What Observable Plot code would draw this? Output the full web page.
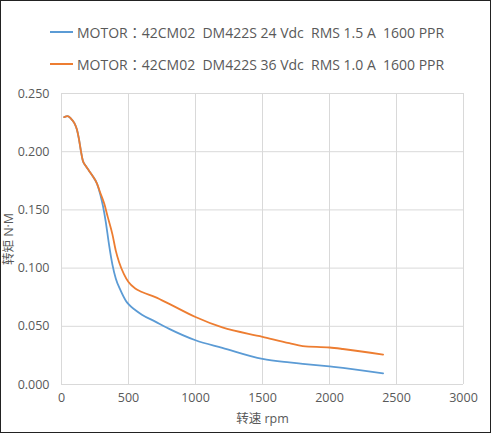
<!DOCTYPE html>
<html>
<head>
<meta charset="utf-8">
<script src="https://cdn.jsdelivr.net/npm/d3@7"></script>
<script src="https://cdn.jsdelivr.net/npm/@observablehq/plot@0.6"></script>
<style>
  html, body { margin: 0; padding: 0; background: #fff; }
  #wrap { position: relative; width: 491px; height: 433px; overflow: hidden; background: #fff;
          font-family: "Open Sans", "Noto Sans CJK JP", sans-serif; }
  #frame { position: absolute; left: 0; top: 0; right: 0; bottom: 0; border: 1.5px solid #222; pointer-events: none; }
  #legend { height: 80px; position: relative; }
  .row { position: absolute; left: 50px; display: flex; align-items: center; white-space: pre;
         font-size: 14px; color: #595959; }
  .sw { width: 23px; height: 0; border-top: 2px solid; margin-right: 4px; }
  svg { display: block; }
</style>
</head>
<body>
<div id="wrap">
  <div id="legend"></div>
  <div id="chart"></div>
  <div id="frame"></div>
</div>
<script>
const seriesNames = [
  "MOTOR：42CM02  DM422S 24 Vdc  RMS 1.5 A  1600 PPR",
  "MOTOR：42CM02  DM422S 36 Vdc  RMS 1.0 A  1600 PPR"
];
const seriesColors = ["#5B9BD5", "#ED7D31"];

// 24 Vdc series (blue)
const rpm24 = [20, 45, 70, 95, 115, 130, 145, 160, 180, 205, 230, 265, 290, 310, 330, 355, 380, 405, 440, 480, 500, 550, 600, 700, 800, 1000, 1200, 1500, 1700, 1800, 2000, 2100, 2400];
const torque24 = [0.2297, 0.2305, 0.2285, 0.2248, 0.219, 0.211, 0.2005, 0.192, 0.188, 0.1837, 0.1795, 0.1725, 0.163, 0.153, 0.140, 0.120, 0.103, 0.091, 0.081, 0.072, 0.069, 0.064, 0.060, 0.054, 0.048, 0.038, 0.0315, 0.022, 0.019, 0.0178, 0.0155, 0.0143, 0.0095];

// 36 Vdc series (orange)
const rpm36 = [20, 45, 70, 95, 115, 130, 145, 160, 180, 205, 230, 265, 290, 320, 345, 380, 405, 430, 465, 500, 550, 600, 700, 800, 1000, 1200, 1500, 1700, 1800, 2000, 2100, 2400];
const torque36 = [0.2297, 0.2305, 0.2285, 0.2248, 0.219, 0.211, 0.2005, 0.192, 0.188, 0.1837, 0.1795, 0.1725, 0.1645, 0.155, 0.144, 0.129, 0.115, 0.105, 0.095, 0.088, 0.0825, 0.0795, 0.075, 0.0695, 0.058, 0.049, 0.041, 0.0355, 0.033, 0.0318, 0.0305, 0.0256];

const xTicks = [0, 500, 1000, 1500, 2000, 2500, 3000];
const yTicks = [0, 0.05, 0.10, 0.15, 0.20, 0.25];

const xLabel = "转速 rpm";
const yLabel = "转矩 N·M";

// legend
const legend = document.getElementById("legend");
seriesNames.forEach((name, i) => {
  const row = document.createElement("div");
  row.className = "row";
  row.style.top = (i === 0 ? 22 : 54) + "px";
  const sw = document.createElement("div");
  sw.className = "sw";
  sw.style.borderTopColor = seriesColors[i];
  const t = document.createElement("span");
  t.textContent = name;
  row.appendChild(sw);
  row.appendChild(t);
  legend.appendChild(row);
});

const data = [];
rpm24.forEach((r, i) => data.push({rpm: r, torque: torque24[i], series: seriesNames[0]}));
rpm36.forEach((r, i) => data.push({rpm: r, torque: torque36[i], series: seriesNames[1]}));

const font = '"Open Sans", "Noto Sans CJK JP", sans-serif';
const chart = Plot.plot({
  width: 491,
  height: 353,
  marginLeft: 61,
  marginRight: 28,
  marginTop: 13,
  marginBottom: 49,
  style: {fontFamily: font, fontSize: "12.5px", color: "#595959", background: "#fff"},
  x: {domain: [0, 3000]},
  y: {domain: [0, 0.25]},
  color: {domain: seriesNames, range: seriesColors},
  marks: [
    Plot.gridX(xTicks, {stroke: "#d9d9d9", strokeOpacity: 1, strokeWidth: 1}),
    Plot.gridY(yTicks, {stroke: "#d9d9d9", strokeOpacity: 1, strokeWidth: 1}),
    Plot.axisX({ticks: xTicks, tickSize: 0, tickPadding: 9, tickFormat: d3.format("d"), fill: "#595959",
      label: xLabel, labelAnchor: "center", labelArrow: "none", labelOffset: 38}),
    Plot.axisY({ticks: yTicks, tickSize: 0, tickPadding: 12, tickFormat: d3.format(".3f"), fill: "#595959",
      label: yLabel, labelAnchor: "center", labelArrow: "none", labelOffset: 57}),
    Plot.line(data, {x: "rpm", y: "torque", stroke: "series", strokeWidth: 1.8, curve: "monotone-x"})
  ]
});
document.getElementById("chart").appendChild(chart);
</script>
</body>
</html>
